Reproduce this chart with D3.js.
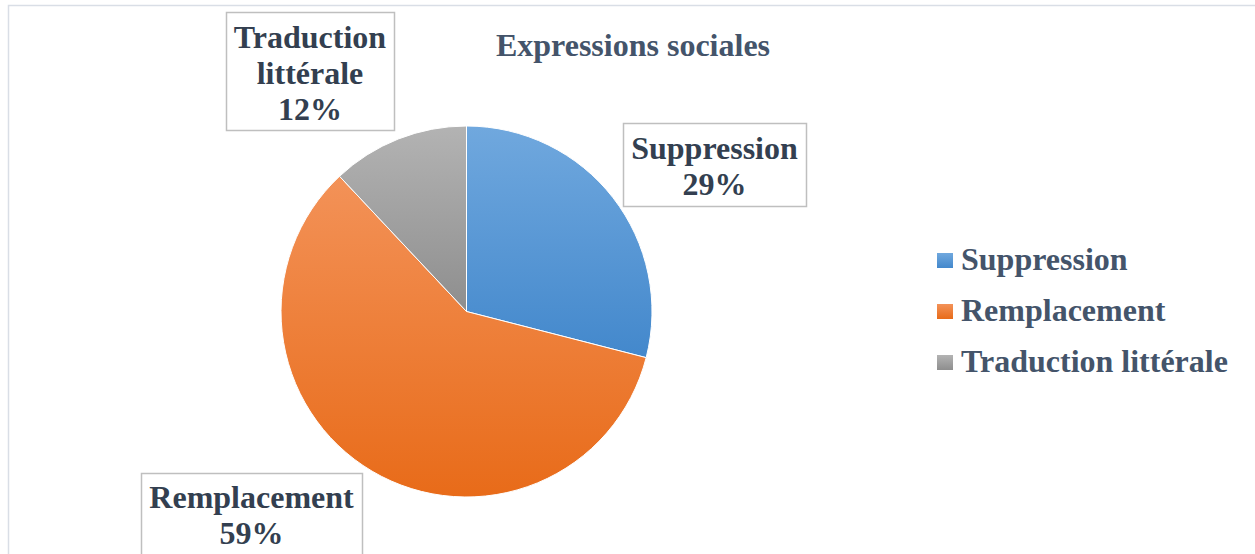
<!DOCTYPE html>
<meta charset="utf-8">
<style>
body{ margin:0; background:#fff; }
text{ font-family:"Liberation Serif","Times New Roman",serif; font-weight:bold; }
</style>
<body>
<div id="chart"></div>
<script src="https://d3js.org/d3.v7.min.js"></script>
<script>
var categories = ["Suppression", "Remplacement", "Traduction littérale"];
var values = [29, 59, 12];
var labels = ["29%", "59%", "12%"];
var title = "Expressions sociales";

var width = 1255, height = 554;
var cx = 466.5, cy = 311.5, radius = 185.5;

var grads = [["#70a8de", "#4388cc"], ["#f39258", "#e86b19"], ["#b3b3b3", "#8e8e8e"]];

var svg = d3.select("#chart").append("svg")
	.attr("width", width).attr("height", height);

var defs = svg.append("defs");
grads.forEach(function(g, i){
	var lg = defs.append("linearGradient").attr("id", "g" + i)
		.attr("x1", 0).attr("y1", 0).attr("x2", 0).attr("y2", 1);
	lg.append("stop").attr("offset", "0%").attr("stop-color", g[0]);
	lg.append("stop").attr("offset", "100%").attr("stop-color", g[1]);
});

// chart area border
svg.append("rect")
	.attr("x", 8.5).attr("y", 5.5).attr("width", 1260).attr("height", 560)
	.attr("fill", "none").attr("stroke", "#d9dee6").attr("stroke-width", 1.5);

var pie = d3.pie().sort(null).value(function(d){ return d; });
var arc = d3.arc().innerRadius(0).outerRadius(radius);
var arcs = pie(values);

svg.append("g").attr("transform", "translate(" + cx + "," + cy + ")")
	.selectAll("path").data(arcs).enter().append("path")
	.attr("d", arc)
	.attr("fill", function(d, i){ return "url(#g" + i + ")"; })
	.attr("stroke", "#fff").attr("stroke-width", 1);

// title
svg.append("text").attr("x", 633).attr("y", 56)
	.attr("text-anchor", "middle").attr("font-size", 32).attr("fill", "#44546a")
	.text(title);

// data label boxes
var boxes = [
	{x: 623, y: 123, w: 183, h: 83, lines: ["Suppression", labels[0]], base: 159},
	{x: 141, y: 473, w: 221, h: 90, lines: ["Remplacement", labels[1]], base: 508},
	{x: 226, y: 12, w: 168, h: 118, lines: ["Traduction", "littérale", labels[2]], base: 48}
];
var lab = svg.selectAll(".lbl").data(boxes).enter().append("g").attr("class", "lbl");
lab.append("rect")
	.attr("x", function(d){ return d.x + 0.5; }).attr("y", function(d){ return d.y + 0.5; })
	.attr("width", function(d){ return d.w; }).attr("height", function(d){ return d.h; })
	.attr("fill", "#fff").attr("stroke", "#bfbfbf").attr("stroke-width", 1.5);
lab.each(function(d){
	var g = d3.select(this);
	d.lines.forEach(function(l, j){
		g.append("text").attr("x", d.x + d.w / 2).attr("y", d.base + j * 36)
			.attr("text-anchor", "middle").attr("font-size", 32).attr("fill", "#333f50")
			.text(l);
	});
});

// legend
var legend = svg.selectAll(".leg").data(categories).enter().append("g")
	.attr("class", "leg")
	.attr("transform", function(d, i){ return "translate(937," + (253 + i * 51) + ")"; });
legend.append("rect").attr("width", 16).attr("height", 15)
	.attr("fill", function(d, i){ return "url(#g" + i + ")"; });
legend.append("text").attr("x", 24).attr("y", 17)
	.attr("font-size", 32).attr("fill", "#44546a")
	.text(function(d){ return d; });
</script>
</body>
